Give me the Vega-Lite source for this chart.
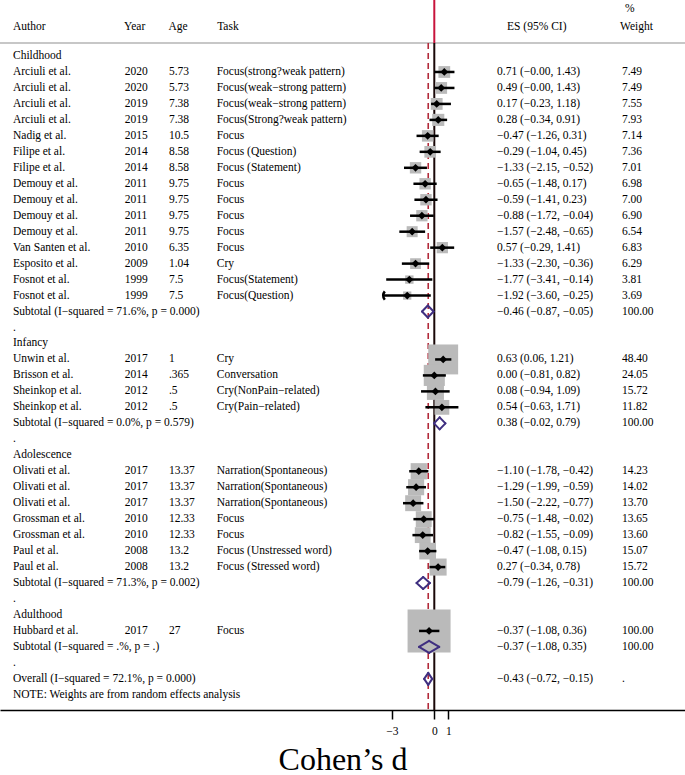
{
  "$schema": "https://vega.github.io/schema/vega-lite/v6.json",
  "width": 685,
  "height": 710,
  "autosize": {"type": "none"},
  "padding": {"left": 0, "top": 0, "right": 0, "bottom": 65},
  "background": "white",
  "config": {
    "view": {"stroke": null},
    "font": "Liberation Serif",
    "text": {"font": "Liberation Serif", "fontSize": 11.5, "color": "#000", "align": "left", "baseline": "middle"},
    "axis": {"grid": false}
  },
  "datasets": {
    "one": [{}],
    "rows": [
      {"row": 0, "a": "Childhood", "k": "group"},
      {"row": 1, "a": "Arciuli et al.", "y": "2020", "g": "5.73", "t": "Focus(strong?weak pattern)", "es": 0.71, "lo": -0.0, "hi": 1.43, "ci": "0.71 (−0.00, 1.43)", "w": "7.49", "wt": 7.49, "k": "study"},
      {"row": 2, "a": "Arciuli et al.", "y": "2020", "g": "5.73", "t": "Focus(weak−strong pattern)", "es": 0.49, "lo": -0.0, "hi": 1.43, "ci": "0.49 (−0.00, 1.43)", "w": "7.49", "wt": 7.49, "k": "study"},
      {"row": 3, "a": "Arciuli et al.", "y": "2019", "g": "7.38", "t": "Focus(weak−strong pattern)", "es": 0.17, "lo": -0.23, "hi": 1.18, "ci": "0.17 (−0.23, 1.18)", "w": "7.55", "wt": 7.55, "k": "study"},
      {"row": 4, "a": "Arciuli et al.", "y": "2019", "g": "7.38", "t": "Focus(Strong?weak pattern)", "es": 0.28, "lo": -0.34, "hi": 0.91, "ci": "0.28 (−0.34, 0.91)", "w": "7.93", "wt": 7.93, "k": "study"},
      {"row": 5, "a": "Nadig et al.", "y": "2015", "g": "10.5", "t": "Focus", "es": -0.47, "lo": -1.26, "hi": 0.31, "ci": "−0.47 (−1.26, 0.31)", "w": "7.14", "wt": 7.14, "k": "study"},
      {"row": 6, "a": "Filipe et al.", "y": "2014", "g": "8.58", "t": "Focus (Question)", "es": -0.29, "lo": -1.04, "hi": 0.45, "ci": "−0.29 (−1.04, 0.45)", "w": "7.36", "wt": 7.36, "k": "study"},
      {"row": 7, "a": "Filipe et al.", "y": "2014", "g": "8.58", "t": "Focus (Statement)", "es": -1.33, "lo": -2.15, "hi": -0.52, "ci": "−1.33 (−2.15, −0.52)", "w": "7.01", "wt": 7.01, "k": "study"},
      {"row": 8, "a": "Demouy et al.", "y": "2011", "g": "9.75", "t": "Focus", "es": -0.65, "lo": -1.48, "hi": 0.17, "ci": "−0.65 (−1.48, 0.17)", "w": "6.98", "wt": 6.98, "k": "study"},
      {"row": 9, "a": "Demouy et al.", "y": "2011", "g": "9.75", "t": "Focus", "es": -0.59, "lo": -1.41, "hi": 0.23, "ci": "−0.59 (−1.41, 0.23)", "w": "7.00", "wt": 7.0, "k": "study"},
      {"row": 10, "a": "Demouy et al.", "y": "2011", "g": "9.75", "t": "Focus", "es": -0.88, "lo": -1.72, "hi": -0.04, "ci": "−0.88 (−1.72, −0.04)", "w": "6.90", "wt": 6.9, "k": "study"},
      {"row": 11, "a": "Demouy et al.", "y": "2011", "g": "9.75", "t": "Focus", "es": -1.57, "lo": -2.48, "hi": -0.65, "ci": "−1.57 (−2.48, −0.65)", "w": "6.54", "wt": 6.54, "k": "study"},
      {"row": 12, "a": "Van Santen et al.", "y": "2010", "g": "6.35", "t": "Focus", "es": 0.57, "lo": -0.29, "hi": 1.41, "ci": "0.57 (−0.29, 1.41)", "w": "6.83", "wt": 6.83, "k": "study"},
      {"row": 13, "a": "Esposito et al.", "y": "2009", "g": "1.04", "t": "Cry", "es": -1.33, "lo": -2.3, "hi": -0.36, "ci": "−1.33 (−2.30, −0.36)", "w": "6.29", "wt": 6.29, "k": "study"},
      {"row": 14, "a": "Fosnot et al.", "y": "1999", "g": "7.5", "t": "Focus(Statement)", "es": -1.77, "lo": -3.41, "hi": -0.14, "ci": "−1.77 (−3.41, −0.14)", "w": "3.81", "wt": 3.81, "k": "study"},
      {"row": 15, "a": "Fosnot et al.", "y": "1999", "g": "7.5", "t": "Focus(Question)", "es": -1.92, "lo": -3.6, "hi": -0.25, "ci": "−1.92 (−3.60, −0.25)", "w": "3.69", "wt": 3.69, "k": "study", "arrow": 1},
      {"row": 16, "a": "Subtotal  (I−squared = 71.6%, p = 0.000)", "es": -0.46, "lo": -0.87, "hi": -0.05, "ci": "−0.46 (−0.87, −0.05)", "w": "100.00", "k": "sub"},
      {"row": 17, "a": ".", "k": "blank"},
      {"row": 18, "a": "Infancy", "k": "group"},
      {"row": 19, "a": "Unwin et al.", "y": "2017", "g": "1", "t": "Cry", "es": 0.63, "lo": 0.06, "hi": 1.21, "ci": "0.63 (0.06, 1.21)", "w": "48.40", "wt": 48.4, "k": "study"},
      {"row": 20, "a": "Brisson et al.", "y": "2014", "g": ".365", "t": "Conversation", "es": 0.0, "lo": -0.81, "hi": 0.82, "ci": "0.00 (−0.81, 0.82)", "w": "24.05", "wt": 24.05, "k": "study"},
      {"row": 21, "a": "Sheinkop et al.", "y": "2012", "g": ".5", "t": "Cry(NonPain−related)", "es": 0.08, "lo": -0.94, "hi": 1.09, "ci": "0.08 (−0.94, 1.09)", "w": "15.72", "wt": 15.72, "k": "study"},
      {"row": 22, "a": "Sheinkop et al.", "y": "2012", "g": ".5", "t": "Cry(Pain−related)", "es": 0.54, "lo": -0.63, "hi": 1.71, "ci": "0.54 (−0.63, 1.71)", "w": "11.82", "wt": 11.82, "k": "study"},
      {"row": 23, "a": "Subtotal  (I−squared = 0.0%, p = 0.579)", "es": 0.38, "lo": -0.02, "hi": 0.79, "ci": "0.38 (−0.02, 0.79)", "w": "100.00", "k": "sub"},
      {"row": 24, "a": ".", "k": "blank"},
      {"row": 25, "a": "Adolescence", "k": "group"},
      {"row": 26, "a": "Olivati et al.", "y": "2017", "g": "13.37", "t": "Narration(Spontaneous)", "es": -1.1, "lo": -1.78, "hi": -0.42, "ci": "−1.10 (−1.78, −0.42)", "w": "14.23", "wt": 14.23, "k": "study"},
      {"row": 27, "a": "Olivati et al.", "y": "2017", "g": "13.37", "t": "Narration(Spontaneous)", "es": -1.29, "lo": -1.99, "hi": -0.59, "ci": "−1.29 (−1.99, −0.59)", "w": "14.02", "wt": 14.02, "k": "study"},
      {"row": 28, "a": "Olivati et al.", "y": "2017", "g": "13.37", "t": "Narration(Spontaneous)", "es": -1.5, "lo": -2.22, "hi": -0.77, "ci": "−1.50 (−2.22, −0.77)", "w": "13.70", "wt": 13.7, "k": "study"},
      {"row": 29, "a": "Grossman et al.", "y": "2010", "g": "12.33", "t": "Focus", "es": -0.75, "lo": -1.48, "hi": -0.02, "ci": "−0.75 (−1.48, −0.02)", "w": "13.65", "wt": 13.65, "k": "study"},
      {"row": 30, "a": "Grossman et al.", "y": "2010", "g": "12.33", "t": "Focus", "es": -0.82, "lo": -1.55, "hi": -0.09, "ci": "−0.82 (−1.55, −0.09)", "w": "13.60", "wt": 13.6, "k": "study"},
      {"row": 31, "a": "Paul et al.", "y": "2008", "g": "13.2", "t": "Focus (Unstressed word)", "es": -0.47, "lo": -1.08, "hi": 0.15, "ci": "−0.47 (−1.08, 0.15)", "w": "15.07", "wt": 15.07, "k": "study"},
      {"row": 32, "a": "Paul et al.", "y": "2008", "g": "13.2", "t": "Focus (Stressed word)", "es": 0.27, "lo": -0.34, "hi": 0.78, "ci": "0.27 (−0.34, 0.78)", "w": "15.72", "wt": 15.72, "k": "study"},
      {"row": 33, "a": "Subtotal  (I−squared = 71.3%, p = 0.002)", "es": -0.79, "lo": -1.26, "hi": -0.31, "ci": "−0.79 (−1.26, −0.31)", "w": "100.00", "k": "sub"},
      {"row": 34, "a": ".", "k": "blank"},
      {"row": 35, "a": "Adulthood", "k": "group"},
      {"row": 36, "a": "Hubbard et al.", "y": "2017", "g": "27", "t": "Focus", "es": -0.37, "lo": -1.08, "hi": 0.36, "ci": "−0.37 (−1.08, 0.36)", "w": "100.00", "wt": 100, "k": "study"},
      {"row": 37, "a": "Subtotal  (I−squared = .%, p = .)", "es": -0.37, "lo": -1.08, "hi": 0.35, "ci": "−0.37 (−1.08, 0.35)", "w": "100.00", "k": "sub"},
      {"row": 38, "a": ".", "k": "blank"},
      {"row": 39, "a": "Overall  (I−squared = 72.1%, p = 0.000)", "es": -0.43, "lo": -0.72, "hi": -0.15, "ci": "−0.43 (−0.72, −0.15)", "w": ".", "k": "sub"},
      {"row": 40, "a": "NOTE: Weights are from random effects analysis", "k": "note"}
    ]
  },
  "layer": [
    {
      "data": {"name": "one"},
      "mark": {"type": "rule", "color": "#b4b4b4", "strokeWidth": 1.5},
      "encoding": {
        "y": {"datum": -0.81, "type": "quantitative", "scale": {"domain": [-3.507, 40.95], "reverse": true, "nice": false, "zero": false}, "axis": null}
      }
    },
    {
      "data": {"name": "one"},
      "mark": {"type": "rule", "color": "#c8143c", "strokeWidth": 2},
      "encoding": {
        "x": {"datum": 0, "type": "quantitative", "scale": {"domain": [-30.8, 17.78], "nice": false, "zero": false},
          "axis": {"values": [-3, 0, 1], "format": "d", "title": "Cohen’s d", "domainColor": "#000", "domainWidth": 1.5, "tickColor": "#000", "tickWidth": 1.5, "tickSize": 9, "labelFont": "Liberation Serif", "labelFontSize": 11.5, "labelColor": "#000", "labelPadding": 6, "titleFont": "Liberation Serif", "titleFontSize": 32, "titleFontWeight": "normal", "titleColor": "#000", "titleBaseline": "alphabetic", "titleY": 59}},
        "y": {"datum": -3.507, "type": "quantitative"},
        "y2": {"datum": -0.81}
      }
    },
    {
      "data": {"name": "one"},
      "mark": {"type": "rule", "color": "#1a0808", "strokeWidth": 2},
      "encoding": {
        "x": {"datum": 0, "type": "quantitative"},
        "y": {"datum": -0.81, "type": "quantitative"},
        "y2": {"datum": 40.95}
      }
    },
    {
      "data": {"name": "one"},
      "mark": {"type": "rule", "color": "#b22a3a", "strokeWidth": 1.6, "strokeDash": [6, 4]},
      "encoding": {
        "x": {"datum": -0.43, "type": "quantitative"},
        "y": {"datum": -0.81, "type": "quantitative"},
        "y2": {"datum": 40.95}
      }
    },
    {
      "data": {"name": "rows"},
      "transform": [{"filter": "datum.k === 'study'"}],
      "mark": {"type": "point", "shape": "square", "filled": true, "color": "#bababa", "opacity": 1},
      "encoding": {
        "x": {"field": "es", "type": "quantitative"},
        "y": {"field": "row", "type": "quantitative"},
        "size": {"field": "wt", "type": "quantitative", "scale": {"type": "linear", "domain": [0, 100], "range": [0, 1850], "zero": true}, "legend": null}
      }
    },
    {
      "data": {"name": "rows"},
      "transform": [{"filter": "datum.k === 'study'"}],
      "mark": {"type": "rule", "color": "#000", "strokeWidth": 2.5},
      "encoding": {
        "x": {"field": "lo", "type": "quantitative"},
        "x2": {"field": "hi"},
        "y": {"field": "row", "type": "quantitative"}
      }
    },
    {
      "data": {"name": "rows"},
      "transform": [{"filter": "datum.arrow === 1"}],
      "mark": {"type": "point", "shape": "M0.3,-1Q-0.5,0,0.3,1", "filled": false, "color": "#000", "strokeWidth": 2.5, "size": 70, "opacity": 1},
      "encoding": {
        "x": {"field": "lo", "type": "quantitative"},
        "y": {"field": "row", "type": "quantitative"}
      }
    },
    {
      "data": {"name": "rows"},
      "transform": [{"filter": "datum.k === 'study'"}],
      "mark": {"type": "point", "shape": "diamond", "filled": true, "color": "#000", "size": 60, "opacity": 1},
      "encoding": {
        "x": {"field": "es", "type": "quantitative"},
        "y": {"field": "row", "type": "quantitative"}
      }
    },
    {
      "data": {"name": "rows"},
      "transform": [{"filter": "datum.k === 'sub'"}],
      "mark": {"type": "rule", "color": "#3f2f80", "strokeWidth": 2, "strokeCap": "round", "y2Offset": -6},
      "encoding": {
        "x": {"field": "lo", "type": "quantitative"},
        "x2": {"field": "es"},
        "y": {"field": "row", "type": "quantitative"},
        "y2": {"field": "row"}
      }
    },
    {
      "data": {"name": "rows"},
      "transform": [{"filter": "datum.k === 'sub'"}],
      "mark": {"type": "rule", "color": "#3f2f80", "strokeWidth": 2, "strokeCap": "round", "yOffset": -6},
      "encoding": {
        "x": {"field": "es", "type": "quantitative"},
        "x2": {"field": "hi"},
        "y": {"field": "row", "type": "quantitative"},
        "y2": {"field": "row"}
      }
    },
    {
      "data": {"name": "rows"},
      "transform": [{"filter": "datum.k === 'sub'"}],
      "mark": {"type": "rule", "color": "#3f2f80", "strokeWidth": 2, "strokeCap": "round", "y2Offset": 6},
      "encoding": {
        "x": {"field": "lo", "type": "quantitative"},
        "x2": {"field": "es"},
        "y": {"field": "row", "type": "quantitative"},
        "y2": {"field": "row"}
      }
    },
    {
      "data": {"name": "rows"},
      "transform": [{"filter": "datum.k === 'sub'"}],
      "mark": {"type": "rule", "color": "#3f2f80", "strokeWidth": 2, "strokeCap": "round", "yOffset": 6},
      "encoding": {
        "x": {"field": "es", "type": "quantitative"},
        "x2": {"field": "hi"},
        "y": {"field": "row", "type": "quantitative"},
        "y2": {"field": "row"}
      }
    },
    {
      "data": {"name": "rows"},
      "mark": {"type": "text"},
      "encoding": {
        "x": {"datum": -29.88, "type": "quantitative"},
        "y": {"field": "row", "type": "quantitative"},
        "text": {"field": "a", "type": "nominal"}
      }
    },
    {
      "data": {"name": "rows"},
      "transform": [{"filter": "isValid(datum.y)"}],
      "mark": {"type": "text"},
      "encoding": {
        "x": {"datum": -21.95, "type": "quantitative"},
        "y": {"field": "row", "type": "quantitative"},
        "text": {"field": "y", "type": "nominal"}
      }
    },
    {
      "data": {"name": "rows"},
      "transform": [{"filter": "isValid(datum.g)"}],
      "mark": {"type": "text"},
      "encoding": {
        "x": {"datum": -18.82, "type": "quantitative"},
        "y": {"field": "row", "type": "quantitative"},
        "text": {"field": "g", "type": "nominal"}
      }
    },
    {
      "data": {"name": "rows"},
      "transform": [{"filter": "isValid(datum.t)"}],
      "mark": {"type": "text"},
      "encoding": {
        "x": {"datum": -15.43, "type": "quantitative"},
        "y": {"field": "row", "type": "quantitative"},
        "text": {"field": "t", "type": "nominal"}
      }
    },
    {
      "data": {"name": "rows"},
      "transform": [{"filter": "isValid(datum.ci)"}],
      "mark": {"type": "text"},
      "encoding": {
        "x": {"datum": 4.45, "type": "quantitative"},
        "y": {"field": "row", "type": "quantitative"},
        "text": {"field": "ci", "type": "nominal"}
      }
    },
    {
      "data": {"name": "rows"},
      "transform": [{"filter": "isValid(datum.w)"}],
      "mark": {"type": "text"},
      "encoding": {
        "x": {"datum": 13.31, "type": "quantitative"},
        "y": {"field": "row", "type": "quantitative"},
        "text": {"field": "w", "type": "nominal"}
      }
    },
    {
      "data": {"name": "one"},
      "mark": {"type": "text", "text": "Author"},
      "encoding": {"x": {"datum": -29.88, "type": "quantitative"}, "y": {"datum": -1.82, "type": "quantitative"}}
    },
    {
      "data": {"name": "one"},
      "mark": {"type": "text", "text": "Year"},
      "encoding": {"x": {"datum": -22.0, "type": "quantitative"}, "y": {"datum": -1.82, "type": "quantitative"}}
    },
    {
      "data": {"name": "one"},
      "mark": {"type": "text", "text": "Age"},
      "encoding": {"x": {"datum": -18.85, "type": "quantitative"}, "y": {"datum": -1.82, "type": "quantitative"}}
    },
    {
      "data": {"name": "one"},
      "mark": {"type": "text", "text": "Task"},
      "encoding": {"x": {"datum": -15.4, "type": "quantitative"}, "y": {"datum": -1.82, "type": "quantitative"}}
    },
    {
      "data": {"name": "one"},
      "mark": {"type": "text", "text": "ES (95% CI)"},
      "encoding": {"x": {"datum": 5.16, "type": "quantitative"}, "y": {"datum": -1.82, "type": "quantitative"}}
    },
    {
      "data": {"name": "one"},
      "mark": {"type": "text", "text": "%"},
      "encoding": {"x": {"datum": 13.52, "type": "quantitative"}, "y": {"datum": -2.94, "type": "quantitative"}}
    },
    {
      "data": {"name": "one"},
      "mark": {"type": "text", "text": "Weight"},
      "encoding": {"x": {"datum": 13.17, "type": "quantitative"}, "y": {"datum": -1.82, "type": "quantitative"}}
    }
  ]
}
